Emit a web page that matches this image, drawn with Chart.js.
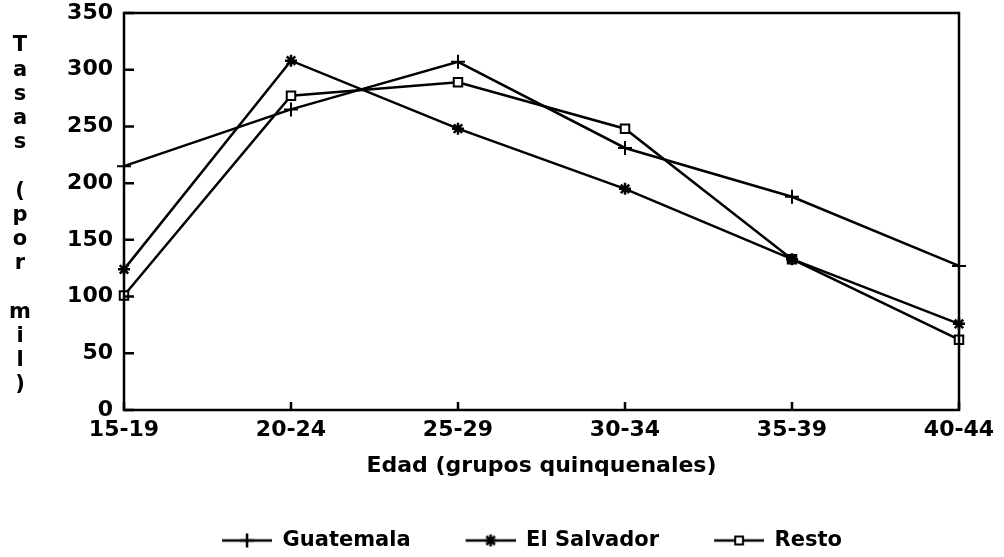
<!DOCTYPE html>
<html>
<head>
<meta charset="utf-8">
<script src="https://cdn.jsdelivr.net/npm/chart.js@4.4.0/dist/chart.umd.min.js"></script>
<style>
html, body { margin: 0; padding: 0; background: #fff; }
#wrap { position: relative; width: 1004px; height: 557px; }
</style>
</head>
<body>
<div id="wrap"><canvas id="line-chart"></canvas></div>
<script>
// values
var ageGroups = ['15-19', '20-24', '25-29', '30-34', '35-39', '40-44'];
var guatemala = [215, 265, 307, 231, 188, 127];
var elSalvador = [124, 308, 248, 195, 133, 76];
var resto = [101, 277, 289, 248, 133, 62];
var yMin = 0, yMax = 350, yStep = 50;
var yTitle = 'Tasas (por mil)';
var xTitle = 'Edad (grupos quinquenales)';

var FONT = "'DejaVu Sans', sans-serif";
var PAD_LEFT = 60;

// little "line + marker" swatch for the legend, blank room on the left acts as item gap
function legendIcon(style, radius, fill) {
  var c = document.createElement('canvas');
  c.width = 95; c.height = 20;
  var g = c.getContext('2d');
  g.strokeStyle = '#000';
  g.lineWidth = 2.5;
  g.beginPath(); g.moveTo(45, 10); g.lineTo(95, 10); g.stroke();
  if (style === 'rect') {
    var s = radius * Math.SQRT1_2;
    g.fillStyle = fill;
    g.lineWidth = 2;
    g.beginPath();
    g.rect(70 - s, 10 - s, 2 * s, 2 * s);
    g.fill(); g.stroke();
  } else {
    Chart.helpers.drawPoint(g, {
      pointStyle: style, radius: radius, rotation: 0, borderWidth: 2
    }, 70, 10);
  }
  return c;
}

var framePlugin = {
  id: 'frame',
  afterDatasetsDraw: function(chart) {
    var ctx = chart.ctx, a = chart.chartArea, x = chart.scales.x, y = chart.scales.y;
    ctx.save();
    ctx.strokeStyle = '#000';
    ctx.lineWidth = 2.5;
    ctx.strokeRect(a.left, a.top, a.width, a.height);
    ctx.beginPath();
    y.ticks.forEach(function(t) {
      var py = y.getPixelForValue(t.value);
      ctx.moveTo(a.left, py); ctx.lineTo(a.left + 10, py);
    });
    x.ticks.forEach(function(t, i) {
      var px = x.getPixelForTick(i);
      ctx.moveTo(px, a.bottom); ctx.lineTo(px, a.bottom - 8);
    });
    ctx.stroke();
    // vertical stacked axis title
    ctx.fillStyle = '#000';
    ctx.font = 'bold 21px ' + FONT;
    ctx.textAlign = 'center';
    ctx.textBaseline = 'middle';
    Array.from(yTitle).forEach(function(ch, i) {
      ctx.fillText(ch, 20, 46 + i * 24.2);
    });
    ctx.restore();
  }
};

var ctx = document.getElementById('line-chart');

var myLineChart = new Chart(ctx, {
  type: 'line',
  data: {
    labels: ageGroups,
    datasets: [
      {
        label: 'Guatemala',
        data: guatemala,
        borderColor: '#000',
        borderWidth: 2.5,
        pointStyle: 'cross',
        pointRadius: 7,
        pointBorderWidth: 2,
        pointBorderColor: '#000',
        tension: 0,
        clip: false
      },
      {
        label: 'El Salvador',
        data: elSalvador,
        borderColor: '#000',
        borderWidth: 2.5,
        pointStyle: 'star',
        pointRadius: 6,
        pointBorderWidth: 2.5,
        pointBorderColor: '#000',
        tension: 0,
        clip: false
      },
      {
        label: 'Resto',
        data: resto,
        borderColor: '#000',
        borderWidth: 2.5,
        pointStyle: 'rect',
        pointRadius: 6,
        pointBorderWidth: 2,
        pointBorderColor: '#000',
        pointBackgroundColor: '#fff',
        tension: 0,
        clip: false
      }
    ]
  },
  options: {
    responsive: true,
    maintainAspectRatio: false,
    animation: false,
    layout: { padding: { left: PAD_LEFT, right: 45, top: 13, bottom: -4 } },
    plugins: {
      tooltip: { enabled: false },
      legend: {
        position: 'bottom',
        labels: {
          usePointStyle: true,
          pointStyleWidth: 95,
          padding: 10,
          color: '#000',
          font: { family: FONT, size: 21, weight: 'bold' },
          generateLabels: function(chart) {
            var icons = [
              legendIcon('cross', 7, '#000'),
              legendIcon('star', 6, '#000'),
              legendIcon('rect', 5.5, '#fff')
            ];
            return chart.data.datasets.map(function(ds, i) {
              return {
                text: ds.label,
                pointStyle: icons[i],
                datasetIndex: i,
                fontColor: '#000',
                lineWidth: 0,
                strokeStyle: 'transparent',
                fillStyle: 'transparent',
                hidden: false
              };
            });
          }
        }
      }
    },
    scales: {
      x: {
        type: 'category',
        offset: false,
        grid: { display: false, drawTicks: false },
        border: { display: false },
        ticks: {
          color: '#000',
          padding: 7,
          maxRotation: 0,
          autoSkip: false,
          font: { family: FONT, size: 22, weight: 'bold' }
        },
        title: {
          display: true,
          text: xTitle,
          color: '#000',
          padding: { top: 0, bottom: 41 },
          font: { family: FONT, size: 22, weight: 'bold' }
        },
        afterFit: function(scale) {
          scale.height = 110;
          scale.paddingLeft = 0;
          scale.paddingRight = 0;
        }
      },
      y: {
        min: yMin,
        max: yMax,
        grid: { display: false, drawTicks: false },
        border: { display: false },
        ticks: {
          stepSize: yStep,
          color: '#000',
          padding: 11,
          font: { family: FONT, size: 22, weight: 'bold' }
        },
        afterFit: function(scale) {
          scale.width = 124 - PAD_LEFT;
          scale.paddingTop = 0;
          scale.paddingBottom = 0;
        }
      }
    }
  },
  plugins: [framePlugin]
});
</script>
</body>
</html>
